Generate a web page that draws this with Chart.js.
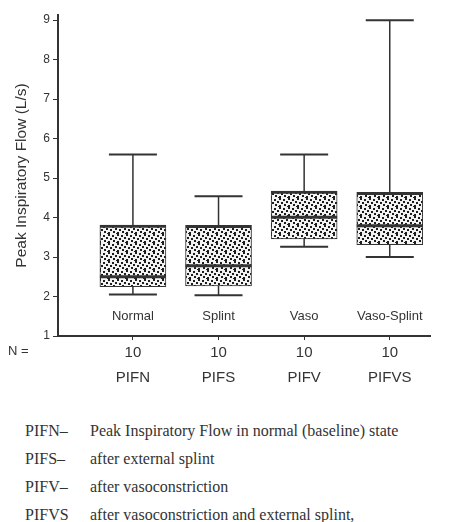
<!DOCTYPE html>
<html>
<head>
<meta charset="utf-8">
<script src="https://cdn.jsdelivr.net/npm/chart.js@4"></script>
<style>
  body { margin: 0; background: #fff; }
  #wrap { position: relative; width: 461px; height: 522px; }
  #c { position: absolute; left: 0; top: 0; }
  .note { position: absolute; font: 16px "Liberation Serif", serif; color: #333; white-space: nowrap; line-height: 18px; }
  .note b { font-weight: normal; display: inline-block; width: 65px; }
</style>
</head>
<body>
<div id="wrap">
  <canvas id="c" width="461" height="400"></canvas>
  <div class="note" style="left:25px; top:422px"><b>PIFN–</b>Peak Inspiratory Flow in normal (baseline) state</div>
  <div class="note" style="left:25px; top:450px"><b>PIFS–</b>after external splint</div>
  <div class="note" style="left:25px; top:478px"><b>PIFV–</b>after vasoconstriction</div>
  <div class="note" style="left:25px; top:506px"><b>PIFVS</b>after vasoconstriction and external splint,</div>
</div>
<script>
const groups = ['PIFN', 'PIFS', 'PIFV', 'PIFVS'];
const conditions = ['Normal', 'Splint', 'Vaso', 'Vaso-Splint'];
const nCounts = [10, 10, 10, 10];
const q1 = [2.25, 2.27, 3.46, 3.31];
const median = [2.5, 2.78, 4.01, 3.79];
const q3 = [3.81, 3.8, 4.67, 4.64];
const whiskerLow = [2.05, 2.03, 3.26, 3.0];
const whiskerHigh = [5.6, 4.54, 5.6, 9.0];
const yTicks = [1, 2, 3, 4, 5, 6, 7, 8, 9];

const ink = '#333';
const canvas = document.getElementById('c');
const ctx = canvas.getContext('2d');

// dotted stipple fill like the printed boxes
function stipple() {
  const t = document.createElement('canvas');
  t.width = 9; t.height = 9;
  const g = t.getContext('2d');
  g.fillStyle = '#f4f4f4';
  g.fillRect(0, 0, 9, 9);
  g.fillStyle = '#1e1e1e';
  [[0, 0], [4, 1], [7, 3], [2, 4], [5, 6], [0, 7], [8, 8]].forEach(([x, y]) => g.fillRect(x, y, 2, 2));
  return ctx.createPattern(t, 'repeat');
}

const boxWidth = 66;

const boxExtras = {
  id: 'boxExtras',
  afterDatasetsDraw(chart) {
    const xs = chart.scales.x, ys = chart.scales.y, c = chart.ctx;
    c.save();
    c.strokeStyle = ink;
    groups.forEach((g, i) => {
      const x = xs.getPixelForValue(i + 1);
      const half = boxWidth / 2;
      // median
      c.lineWidth = 3;
      c.beginPath();
      c.moveTo(x - half, ys.getPixelForValue(median[i]));
      c.lineTo(x + half, ys.getPixelForValue(median[i]));
      c.stroke();
      // whiskers
      c.lineWidth = 1.5;
      c.beginPath();
      c.moveTo(x, ys.getPixelForValue(q3[i]));
      c.lineTo(x, ys.getPixelForValue(whiskerHigh[i]));
      c.moveTo(x, ys.getPixelForValue(q1[i]));
      c.lineTo(x, ys.getPixelForValue(whiskerLow[i]));
      c.stroke();
      c.lineWidth = 2;
      c.beginPath();
      c.moveTo(x - 24, ys.getPixelForValue(whiskerHigh[i]));
      c.lineTo(x + 24, ys.getPixelForValue(whiskerHigh[i]));
      c.moveTo(x - 24, ys.getPixelForValue(whiskerLow[i]));
      c.lineTo(x + 24, ys.getPixelForValue(whiskerLow[i]));
      c.stroke();
      // condition names inside the plot
      c.fillStyle = ink;
      c.font = '13px Arial, "Liberation Sans", sans-serif';
      c.textAlign = 'center';
      c.textBaseline = 'middle';
      c.fillText(conditions[i], x, chart.chartArea.bottom - 20);
    });
    // "N =" row label
    c.textAlign = 'left';
    c.font = '13px Arial, "Liberation Sans", sans-serif';
    c.fillText('N =', 8, xs.top + 15);
    c.restore();
  }
};

new Chart(ctx, {
  type: 'bar',
  data: {
    datasets: [{
      data: groups.map((g, i) => ({ x: i + 1, y: [q1[i], q3[i]] })),
      backgroundColor: stipple(),
      borderColor: ink,
      borderWidth: { top: 3, bottom: 1, left: 1, right: 1 },
      borderSkipped: false,
      barThickness: boxWidth
    }]
  },
  options: {
    responsive: false,
    animation: false,
    layout: { padding: { left: 8, top: 15, right: 31, bottom: 0 } },
    plugins: { legend: { display: false }, tooltip: { enabled: false } },
    scales: {
      x: {
        type: 'linear',
        offset: false,
        min: 0.125,
        max: 4.47,
        afterBuildTicks: s => { s.ticks = groups.map((g, i) => ({ value: i + 1 })); },
        afterFit: s => { s.height = 64; },
        grid: { drawOnChartArea: false, offset: false, tickLength: 4, color: ink },
        border: { color: ink, width: 2 },
        ticks: {
          padding: 0,
          color: ink,
          font: { size: 15, family: 'Arial, "Liberation Sans", sans-serif', lineHeight: '25px' },
          callback: v => [String(nCounts[v - 1]), groups[v - 1]]
        }
      },
      y: {
        min: 1,
        max: 9.13,
        afterBuildTicks: s => { s.ticks = yTicks.map(v => ({ value: v })); },
        afterFit: s => { s.width = 50; },
        grid: { drawOnChartArea: false, tickLength: 5, color: ink },
        border: { color: ink, width: 2 },
        title: {
          display: true,
          text: 'Peak Inspiratory Flow (L/s)',
          color: ink,
          padding: 4,
          font: { size: 15.5, family: 'Arial, "Liberation Sans", sans-serif' }
        },
        ticks: {
          padding: 3,
          color: ink,
          font: { size: 12, family: 'Arial, "Liberation Sans", sans-serif' }
        }
      }
    }
  },
  plugins: [boxExtras]
});
</script>
</body>
</html>
